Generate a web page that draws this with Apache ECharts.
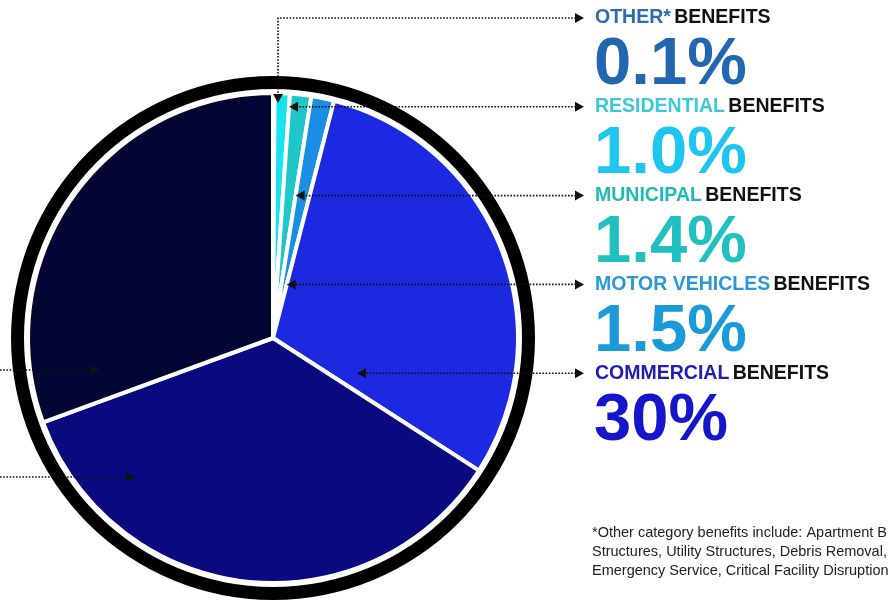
<!DOCTYPE html>
<html>
<head>
<meta charset="utf-8">
<script src="https://cdn.jsdelivr.net/npm/echarts@6/dist/echarts.min.js"></script>
<style>
html,body{margin:0;padding:0;background:#fff;}
#chart{width:888px;height:601px;}
</style>
</head>
<body>
<div id="chart"></div>
<script>
// ---- data ----
const categories = ['Other*', 'Residential', 'Municipal', 'Motor Vehicles', 'Commercial', 'Unlabeled (bottom)', 'Unlabeled (left)'];
const values = [0.1, 1.0, 1.4, 1.5, 30, 35.2, 30.5];
const sliceColors = ['#1f6fb5', '#18e2ee', '#1ec6c8', '#1a8ee2', '#1b2ae0', '#0a0a80', '#050534'];
const headerNames = ['OTHER*', 'RESIDENTIAL', 'MUNICIPAL', 'MOTOR VEHICLES', 'COMMERCIAL'];
const headerColors = ['#2a6db0', '#3cc8d6', '#1fb9bb', '#2a97d6', '#1e1eb4'];
const valueLabels = ['0.1%', '1.0%', '1.4%', '1.5%', '30%'];
const valueColors = ['#2167b0', '#1cc6ee', '#20c0c0', '#1a9ad8', '#1515cc'];
const footnoteLines = [
  '*Other category benefits include: Apartment Buildings, Other',
  'Structures, Utility Structures, Debris Removal,',
  'Emergency Service, Critical Facility Disruption'
];

// ---- layout ----
const cx = 273, cy = 338, R = 245;
const ringR0 = 249, ringR = 262;
const labelX = 595, header0Y = 18, rowStep = 88.8;
const headFont = 'bold 19.5px "Liberation Sans", Arial, sans-serif';
const bigFont = 'bold 67px "Liberation Sans", Arial, sans-serif';

const chart = echarts.init(document.getElementById('chart'), null, {renderer: 'canvas'});

const total = values.reduce((a, b) => a + b, 0);
const cum = [];
let acc = 0;
values.forEach(v => { cum.push([acc / total * 2 * Math.PI, (acc + v) / total * 2 * Math.PI]); acc += v; });

const graphics = [];
// black ring
graphics.push({type: 'ring', shape: {cx: cx, cy: cy, r: ringR, r0: ringR0}, style: {fill: '#000'}, z: 1, silent: true});

const lineStyle = {stroke: '#111', lineWidth: 1.6, lineDash: [1.6, 1.6], fill: null};
function arrowHead(x, y, dir) {
  const s = 5, l = 9;
  let pts;
  if (dir === 'left') pts = [[x, y], [x + l, y - s], [x + l, y + s]];
  else if (dir === 'right') pts = [[x, y], [x - l, y - s], [x - l, y + s]];
  else pts = [[x, y], [x - s, y - l], [x + s, y - l]];
  graphics.push({type: 'polygon', shape: {points: pts}, style: {fill: '#111'}, z: 20, silent: true});
}

const lineStartX = 584;
for (let i = 0; i < headerNames.length; i++) {
  const hy = header0Y + i * rowStep;
  // header
  graphics.push({
    type: 'text', x: labelX, y: hy, z: 20,
    style: {
      text: '{c|' + headerNames[i] + '} {k|BENEFITS}',
      verticalAlign: 'middle', align: 'left',
      rich: {
        c: {fill: headerColors[i], font: headFont},
        k: {fill: '#111', font: headFont}
      }
    }
  });
  // big value
  graphics.push({
    type: 'text', x: labelX - 1, y: hy + 48, z: 20,
    style: {text: valueLabels[i], fill: valueColors[i], font: bigFont, verticalAlign: 'middle', align: 'left'}
  });
  // arrow at label side
  arrowHead(lineStartX, hy, 'right');
  // leader line to slice
  let tipX, pts;
  if (i === 0) {
    tipX = cx + 5;
    const tipY = cy - R + 10;
    pts = [[lineStartX - 8, hy], [tipX, hy], [tipX, tipY - 9]];
    graphics.push({type: 'polyline', shape: {points: pts}, style: lineStyle, z: 19, silent: true});
    arrowHead(tipX, tipY, 'down');
    continue;
  } else if (i < 4) {
    const a = cum[i][1];
    tipX = cx + (cy - hy) * Math.tan(a);
  } else {
    tipX = cx + 84;
  }
  pts = [[lineStartX - 8, hy], [tipX + 9, hy]];
  graphics.push({type: 'polyline', shape: {points: pts}, style: lineStyle, z: 19, silent: true});
  arrowHead(tipX, hy, 'left');
}

// leader lines from the cut-off labels on the left
[[370, 100], [477, 135]].forEach(([y, x]) => {
  graphics.push({type: 'polyline', shape: {points: [[0, y], [x - 8, y]]}, style: lineStyle, z: 19, silent: true});
  arrowHead(x, y, 'right');
});

// footnote
footnoteLines.forEach((t, i) => {
  graphics.push({type: 'text', x: 592, y: 533 + i * 19, z: 20,
    style: {text: t, fill: '#222', font: '14.5px "Liberation Sans", Arial, sans-serif', verticalAlign: 'middle', align: 'left'}});
});

chart.setOption({
  animation: false,
  backgroundColor: '#fff',
  series: [{
    type: 'pie',
    center: [cx, cy],
    radius: [0, R],
    startAngle: 90,
    clockwise: true,
    silent: true,
    label: {show: false},
    labelLine: {show: false},
    emphasis: {disabled: true},
    itemStyle: {borderColor: '#fff', borderWidth: 4},
    data: categories.map((c, i) => ({name: c, value: values[i], itemStyle: {color: sliceColors[i]}}))
  }],
  graphic: graphics
});
</script>
</body>
</html>
